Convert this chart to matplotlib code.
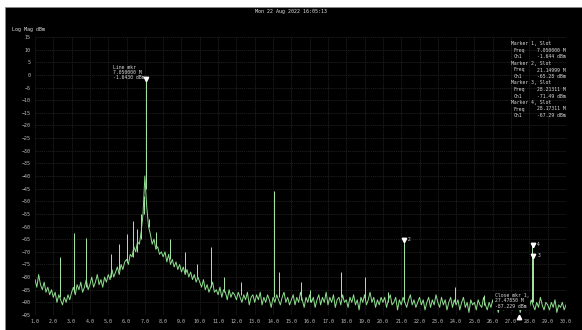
import numpy as np
import matplotlib.pyplot as plt
from matplotlib.patches import Rectangle

title = "Mon 22 Aug 2022 16:05:13"
y_label = "Log Mag dBm"

# trace, 1.0 .. 30.0 MHz, 0.1 MHz step
f_start = 1.0
f_step = 0.1
trace_dbm = [
    -81, -84, -79, -83, -85, -82, -86, -84, -87, -85,
    -88, -86, -90, -87, -89, -91, -88, -90, -87, -89,
    -86, -84, -87, -83, -85, -82, -86, -84, -81, -85,
    -83, -80, -84, -82, -79, -83, -81, -84, -80, -82,
    -79, -81, -77, -80, -78, -76, -79, -75, -77, -74,
    -73, -75, -71, -72, -68, -70, -66, -67, -62, -55,
    -40, -52, -60, -63, -67, -65, -69, -68, -71, -70,
    -72, -70, -74, -71, -75, -73, -76, -74, -77, -75,
    -78, -76, -79, -77, -80, -78, -81, -79, -82, -80,
    -82, -84, -81, -85, -83, -86, -84, -82, -86, -85,
    -87, -84, -88, -85, -86, -89, -85, -88, -86, -87,
    -89, -86, -88, -90, -87, -89, -86, -91, -88, -87,
    -90, -87, -89, -86, -91, -88, -90, -87, -89, -92,
    -88, -90, -87, -89, -91, -88, -86, -90, -88, -91,
    -89, -87, -91, -88, -90, -86, -89, -92, -88, -90,
    -87, -90, -88, -92, -89, -87, -91, -88, -90, -86,
    -91, -88, -90, -87, -92, -89, -88, -91, -87, -90,
    -89, -92, -88, -90, -87, -91, -89, -93, -88, -90,
    -87, -91, -89, -86, -90, -88, -92, -89, -91, -88,
    -90, -88, -92, -89, -87, -91, -90, -88, -93, -89,
    -91, -88, -90, -92, -89, -87, -91, -89, -92, -90,
    -88, -91, -89, -93, -90, -88, -92, -89, -91, -87,
    -90, -92, -88, -91, -89, -93, -90, -88, -92, -89,
    -91, -89, -93, -90, -88, -92, -90, -94, -89, -91,
    -90, -93, -89, -91, -92, -88, -91, -93, -90, -92,
    -89, -92, -90, -94, -91, -89, -93, -90, -92, -88,
    -91, -93, -89, -92, -90, -94, -91, -89, -93, -90,
    -92, -89, -91, -93, -90, -92, -88, -91, -93, -90,
    -91, -93, -90, -92, -89, -94, -91, -92, -90, -93,
    -91,
]

# narrow spurs: frequency, floor under it, top
spike_mhz = [2.37, 3.13, 3.79, 5.15, 5.6, 6.05, 6.35, 6.55, 6.8, 6.95, 7.05,
             7.25, 7.6, 8.35, 9.2, 9.85, 10.6, 11.3, 12.25, 14.05, 14.3,
             15.5, 16.0, 17.7, 19.0, 20.3, 21.15, 23.95, 25.5, 28.17, 28.21]
spike_base = [-88, -86, -84, -80, -77, -74, -72, -70, -65, -55, -45,
              -60, -68, -73, -78, -80, -84, -86, -87, -88, -88,
              -89, -90, -88, -89, -90, -90, -90, -91, -90, -90]
spike_top = [-72, -62.5, -64.5, -71, -67, -63, -58, -61, -55, -48, -1.64,
             -57, -62, -65, -70, -75, -68, -80, -82, -46, -78,
             -82, -85, -78, -80, -86, -65.28, -84, -87, -67.29, -71.49]

marker_ids = ["1", "2", "3", "4"]
marker_mhz = [7.05, 21.15, 28.21311, 28.17311]
marker_dbm = [-1.643, -65.28, -71.49, -67.29]
marker_freq_txt = ["7.050000 M", "21.14999 M", "28.21311 M", "28.17311 M"]
marker_lvl_txt = ["-1.644 dBm", "-65.28 dBm", "-71.49 dBm", "-67.29 dBm"]

close_mhz = 27.45
close_txt = ["Close mkr 1,", "27.47850 M", "-87.229 dBm"]

freqs = f_start + f_step * np.arange(len(trace_dbm))

fig = plt.figure(figsize=(5.82, 3.30), dpi=100, facecolor="white")
bg = Rectangle((5 / 582, 0), 1, 323 / 330, transform=fig.transFigure,
               facecolor="black", edgecolor="#888888", lw=0.6, zorder=-10)
fig.patches.append(bg)
ax = fig.add_axes([35 / 582, 1 - 315 / 330, (566 - 35) / 582, (315 - 37) / 330])
ax.set_facecolor("black")

ax.set_xlim(1, 30)
ax.set_ylim(-95, 15)
ax.set_xticks(np.arange(1, 31))
ax.set_xticklabels([f"{v:.1f}" for v in range(1, 31)])
ax.set_yticks(np.arange(-95, 16, 5))
ax.tick_params(colors="#bdbdbd", labelsize=3.6, length=0, pad=3)
for lab in ax.get_xticklabels() + ax.get_yticklabels():
    lab.set_family("DejaVu Sans Mono")
for s in ax.spines.values():
    s.set_visible(False)
ax.grid(True, color="#222222", lw=0.6, ls=(0, (1.5, 1)))

ax.vlines(spike_mhz, spike_base, spike_top, color="#a8e8a8", lw=0.7, zorder=3)
ax.plot(freqs, trace_dbm, color="#8ee08e", lw=0.7, zorder=4)

ax.plot(marker_mhz, marker_dbm, ls="none", marker="v", ms=3.2, color="white", zorder=5)
for mid, f, d in zip(marker_ids[1:], marker_mhz[1:], marker_dbm[1:]):
    ax.annotate(mid, (f, d), xytext=(3, 0), textcoords="offset points",
                color="#dddddd", fontsize=3.4, va="center", family="DejaVu Sans Mono")
ax.annotate("Line mkr\n7.050000 M\n-1.6430 dBm", (marker_mhz[0], marker_dbm[0]),
            xytext=(-23.5, -1), textcoords="offset points", color="#dddddd",
            fontsize=3.4, va="bottom", ha="left", linespacing=1.1,
            family="DejaVu Sans Mono")

ax.plot([close_mhz], [-95.6], ls="none", marker="^", ms=3.2, color="white",
        clip_on=False, zorder=5)
ax.text(26.1, -92.5, "\n".join(close_txt), color="#dddddd", fontsize=3.4,
        va="bottom", ha="left", linespacing=1.1, family="DejaVu Sans Mono",
        zorder=6, bbox=dict(facecolor="black", edgecolor="none", pad=0.8))

# marker table
y0 = 44
for i in range(4):
    yy = y0 + i * 19.5
    fig.text(511 / 582, 1 - yy / 330, f"Marker {marker_ids[i]}, Slot", color="#dddddd",
             fontsize=3.4, va="center", family="DejaVu Sans Mono")
    fig.text(514 / 582, 1 - (yy + 6.5) / 330, "Freq", color="#dddddd",
             fontsize=3.4, va="center", family="DejaVu Sans Mono")
    fig.text(566 / 582, 1 - (yy + 6.5) / 330, marker_freq_txt[i], color="#dddddd",
             fontsize=3.4, va="center", ha="right", family="DejaVu Sans Mono")
    fig.text(514 / 582, 1 - (yy + 13) / 330, "Ch1", color="#dddddd",
             fontsize=3.4, va="center", family="DejaVu Sans Mono")
    fig.text(566 / 582, 1 - (yy + 13) / 330, marker_lvl_txt[i], color="#dddddd",
             fontsize=3.4, va="center", ha="right", family="DejaVu Sans Mono")

fig.text(291 / 582, 1 - 12 / 330, title, color="#e0e0e0", fontsize=3.6,
         ha="center", va="center", family="DejaVu Sans Mono")
fig.text(12 / 582, 1 - 30 / 330, y_label, color="#dddddd", fontsize=3.6,
         ha="left", va="center", family="DejaVu Sans Mono")

fig.savefig("out.png", dpi=100, facecolor=fig.get_facecolor())
